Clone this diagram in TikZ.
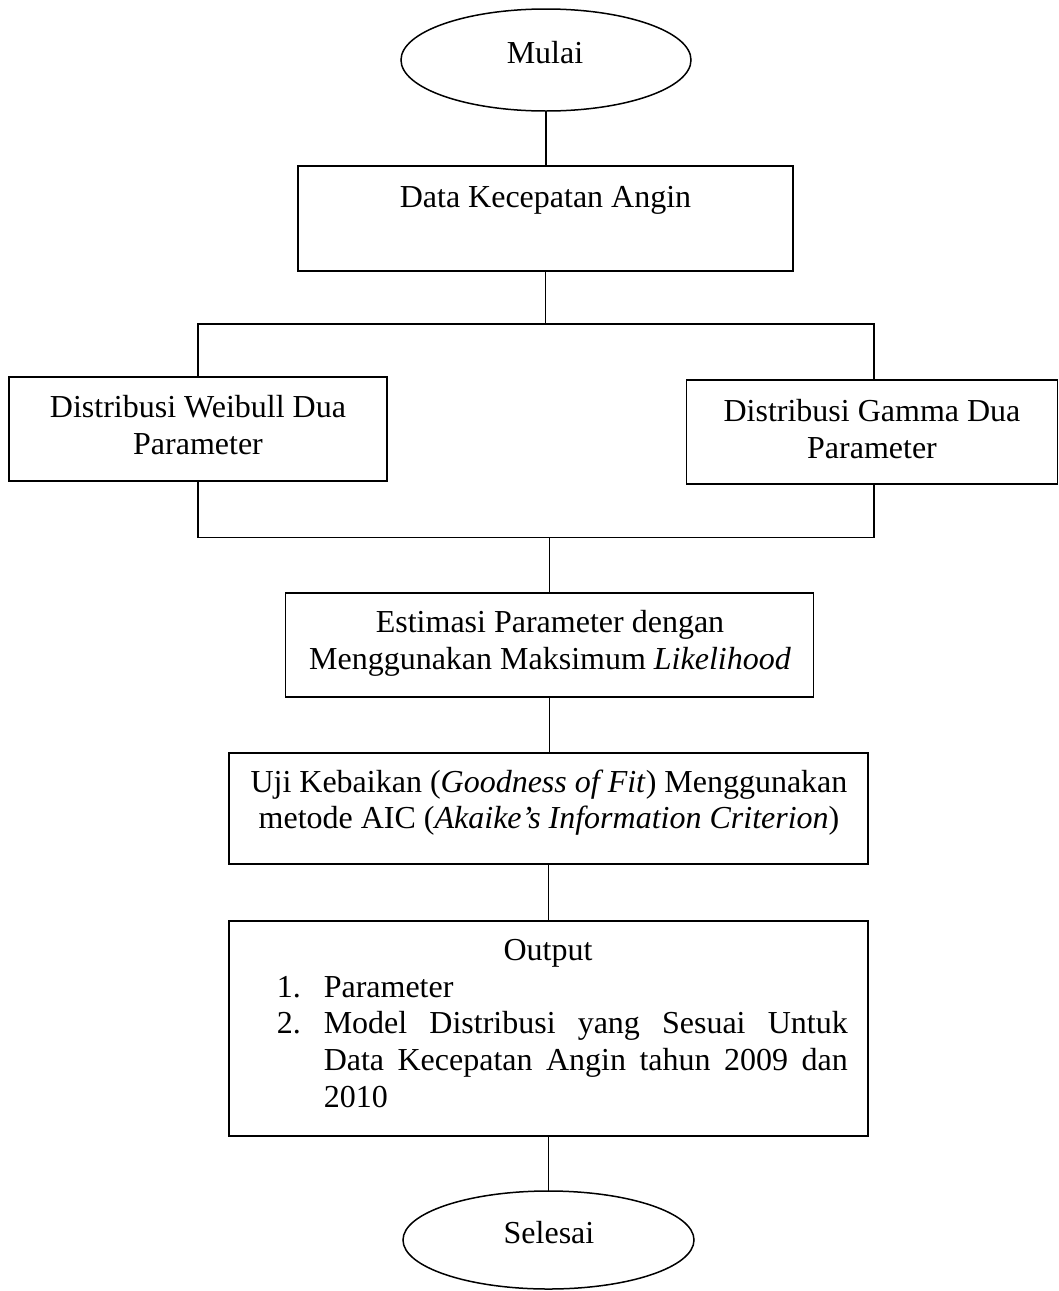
\documentclass[tikz,border=0pt]{standalone}
\usepackage{fontspec}
\setmainfont{Liberation Serif}
\usetikzlibrary{shapes.geometric}
\begin{document}
\begin{tikzpicture}[x=1pt,y=-1pt, line width=1.5pt,
  box/.style={draw, rectangle, inner sep=0pt, outer sep=0pt},
  term/.style={draw, ellipse, inner sep=0pt, outer sep=0pt},
  txt/.style={inner sep=0pt, anchor=base, font=\fontsize{32}{37}\selectfont},
  ltxt/.style={txt, anchor=base west}]
\useasboundingbox (0,0) rectangle (1059,1291);
% shapes
\node[term, minimum width=290pt, minimum height=102pt] (mulai) at (546,60) {};
\node[box, minimum width=495pt, minimum height=105pt] (data) at (545.5,218.5) {};
\node[box, minimum width=378pt, minimum height=104pt] (weibull) at (198,429) {};
\node[box, minimum width=371pt, minimum height=104pt] (gamma) at (872,432) {};
\node[box, minimum width=528pt, minimum height=104pt] (estimasi) at (549.5,645) {};
\node[box, minimum width=639pt, minimum height=111pt] (uji) at (548.5,808.5) {};
\node[box, minimum width=639pt, minimum height=215pt] (output) at (548.5,1028.5) {};
\node[term, minimum width=291pt, minimum height=98pt] (selesai) at (548.5,1240) {};
% texts
\node[txt] (tmulai) at (545,63) {Mulai};
\node[txt] (tdata) at (545.5,207) {Data Kecepatan Angin};
\node[txt] (tw1) at (198,417) {Distribusi Weibull Dua};
\node[txt] (tw2) at (198,454) {Parameter};
\node[txt] (tg1) at (872,421) {Distribusi Gamma Dua};
\node[txt] (tg2) at (872,458) {Parameter};
\node[txt] (te1) at (550,632) {Estimasi Parameter dengan};
\node[txt] (te2) at (550,669) {Menggunakan Maksimum \textit{Likelihood}};
\node[txt] (tu1) at (549,792) {Uji Kebaikan (\textit{Goodness of Fit}) Menggunakan};
\node[txt] (tu2) at (549,828) {metode AIC (\textit{Akaike’s Information Criterion})};
\node[txt] (to0) at (548,960) {Output};
\node[ltxt] (n1) at (276,997) {1.};
\node[ltxt] (l1) at (323,997) {Parameter};
\node[ltxt] (n2) at (276,1033) {2.};
\node[ltxt] (l2) at (323,1033) {\makebox[524pt][s]{Model Distribusi yang Sesuai Untuk}};
\node[ltxt] (l3) at (323,1070) {\makebox[524pt][s]{Data Kecepatan Angin tahun 2009 dan}};
\node[ltxt] (l4) at (323,1107) {2010};
\node[txt] (tsel) at (549,1243) {Selesai};
% junction points
\coordinate (jt) at (546,324);
\coordinate (jl) at (198,324);
\coordinate (jr) at (874,324);
\coordinate (bl) at (198,537.5);
\coordinate (br) at (874,537.5);
\coordinate (bj) at (549.5,537.5);
% connectors
\draw (mulai.south) -- (mulai.south |- data.north);
\draw (data.south) -- (data.south |- jt);
\draw (weibull.north -| jl) -- (jl) -- (jr) -- (gamma.north -| jr);
\draw (weibull.south -| bl) -- (bl) -- (br) -- (gamma.south -| br);
\draw (bj) -- (estimasi.north);
\draw (estimasi.south) -- (estimasi.south |- uji.north);
\draw (uji.south) -- (output.north);
\draw (output.south) -- (selesai.north);
\end{tikzpicture}
\end{document}
